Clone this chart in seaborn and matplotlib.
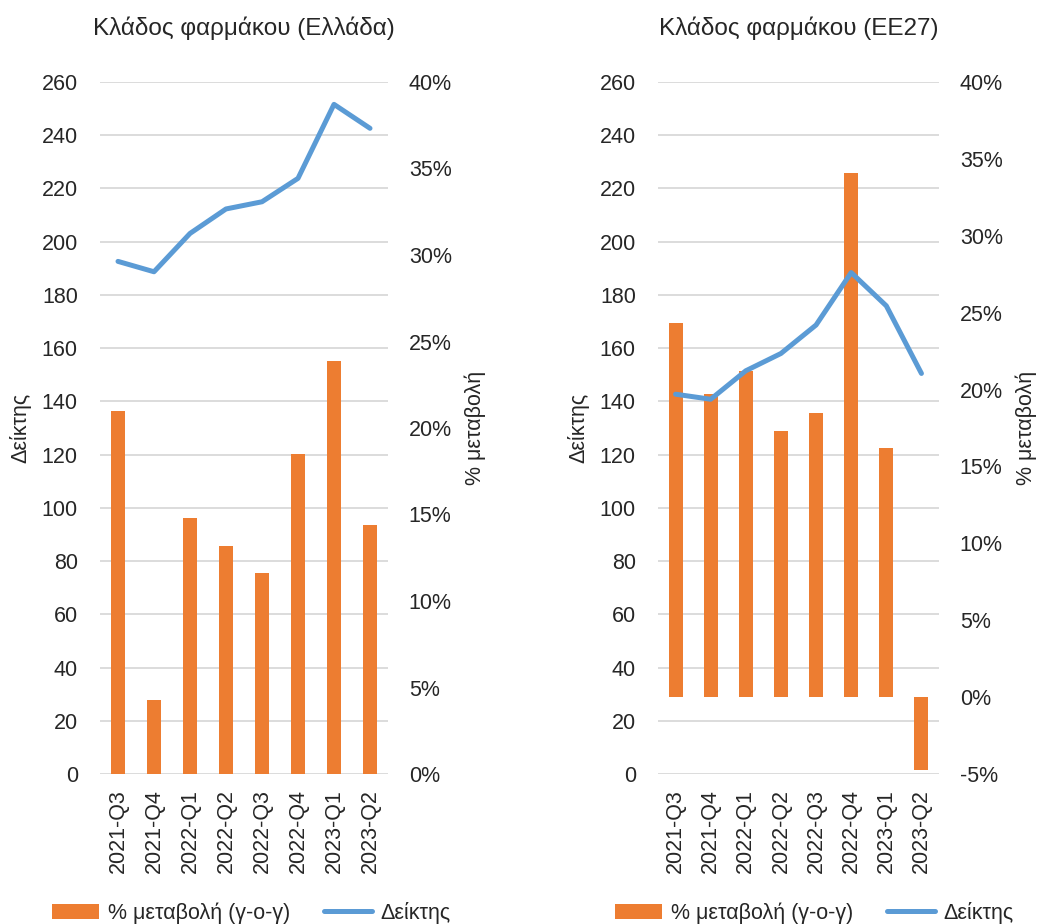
import numpy as np
import pandas as pd
import matplotlib
matplotlib.use("Agg")
import matplotlib.pyplot as plt
from matplotlib.patches import Patch
from matplotlib.lines import Line2D
from matplotlib.ticker import MultipleLocator, FuncFormatter
import seaborn as sns

# ---------------- data ----------------
quarters = ["2021-Q3", "2021-Q4", "2022-Q1", "2022-Q2",
            "2022-Q3", "2022-Q4", "2023-Q1", "2023-Q2"]

gr_change = [21.0, 4.3, 14.8, 13.2, 11.6, 18.5, 23.9, 14.4]      # % (right axis)
gr_index = [192.6, 188.7, 203.1, 212.3, 215.0, 223.8, 251.6, 242.6]

eu_change = [24.3, 19.7, 21.2, 17.3, 18.5, 34.1, 16.2, -4.75]
eu_index = [142.7, 140.8, 151.5, 158.0, 168.7, 188.4, 175.9, 150.5]

titles = ["Κλάδος φαρμάκου (Ελλάδα)", "Κλάδος φαρμάκου (ΕΕ27)"]
left_label = "Δείκτης"
right_label = "% μεταβολή"
bar_legend = "% μεταβολή (γ-ο-γ)"
line_legend = "Δείκτης"
right_limits = [(0, 40), (-5, 40)]

# ---------------- style ----------------
sns.set_theme(style="white")
plt.rcParams["font.family"] = ["Liberation Sans", "DejaVu Sans"]

ORANGE = "#ED7D31"
BLUE = "#5B9BD5"
GRID = "#D9D9D9"
FS = 15.5

fig = plt.figure(figsize=(10.37, 9.24), dpi=100)

positions = [[100 / 1037, 150 / 924, 288 / 1037, 692 / 924],
             [658 / 1037, 150 / 924, 281 / 1037, 692 / 924]]
legend_centers = [(251 / 1037, 1 - 913 / 924), (814 / 1037, 1 - 913 / 924)]

datasets = [(gr_change, gr_index), (eu_change, eu_index)]

for i, (chg, idx) in enumerate(datasets):
    ax = fig.add_axes(positions[i])
    ax2 = ax.twinx()   # bars, right axis
    ax3 = ax.twinx()   # line, shares left scale

    df = pd.DataFrame({"q": quarters, "chg": chg, "idx": idx,
                       "pos": np.arange(len(quarters))})

    # grid on primary axis (drawn first)
    ax.set_ylim(0, 260)
    ax.yaxis.set_major_locator(MultipleLocator(20))
    ax.grid(axis="y", color=GRID, linewidth=1.3)
    ax.grid(axis="x", visible=False)

    # bars
    sns.barplot(data=df, x="q", y="chg", order=quarters, ax=ax2,
                color=ORANGE, saturation=1, width=0.4, linewidth=0)
    ax2.set_ylim(*right_limits[i])
    ax2.yaxis.set_major_locator(MultipleLocator(5))
    ax2.yaxis.set_major_formatter(FuncFormatter(lambda v, p: f"{v:.0f}%"))
    ax2.grid(False)

    # line
    sns.lineplot(data=df, x="pos", y="idx", ax=ax3, color=BLUE,
                 linewidth=3.6, solid_capstyle="round", solid_joinstyle="round")
    ax3.set_ylim(0, 260)
    ax3.set_yticks([])
    ax3.set_ylabel("")
    ax3.grid(False)

    for a in (ax, ax2, ax3):
        for s in a.spines.values():
            s.set_visible(False)
        a.set_xlim(-0.5, len(quarters) - 0.5)
        a.set_xlabel("")

    ax.set_xticks(np.arange(len(quarters)))
    ax.set_xticklabels(quarters, rotation=90, fontsize=FS)
    ax.tick_params(axis="x", length=0, pad=11)
    ax.tick_params(axis="y", length=0, pad=16, labelsize=FS)
    ax2.tick_params(axis="y", length=0, pad=15, labelsize=FS)

    ax.set_ylabel(left_label, fontsize=FS, labelpad=7)
    ax2.set_ylabel(right_label, fontsize=FS, labelpad=9, rotation=90)
    ax.set_title(titles[i], fontsize=17.5, pad=34)

    handles = [Patch(facecolor=ORANGE, edgecolor="none", label=bar_legend),
               Line2D([0], [0], color=BLUE, linewidth=3.6,
                      solid_capstyle="round", label=line_legend)]
    fig.legend(handles=handles, loc="center", bbox_to_anchor=legend_centers[i],
               ncol=2, frameon=False, fontsize=FS, handlelength=2.2,
               handletextpad=0.4, columnspacing=1.6)

fig.savefig("out.png", dpi=100)
